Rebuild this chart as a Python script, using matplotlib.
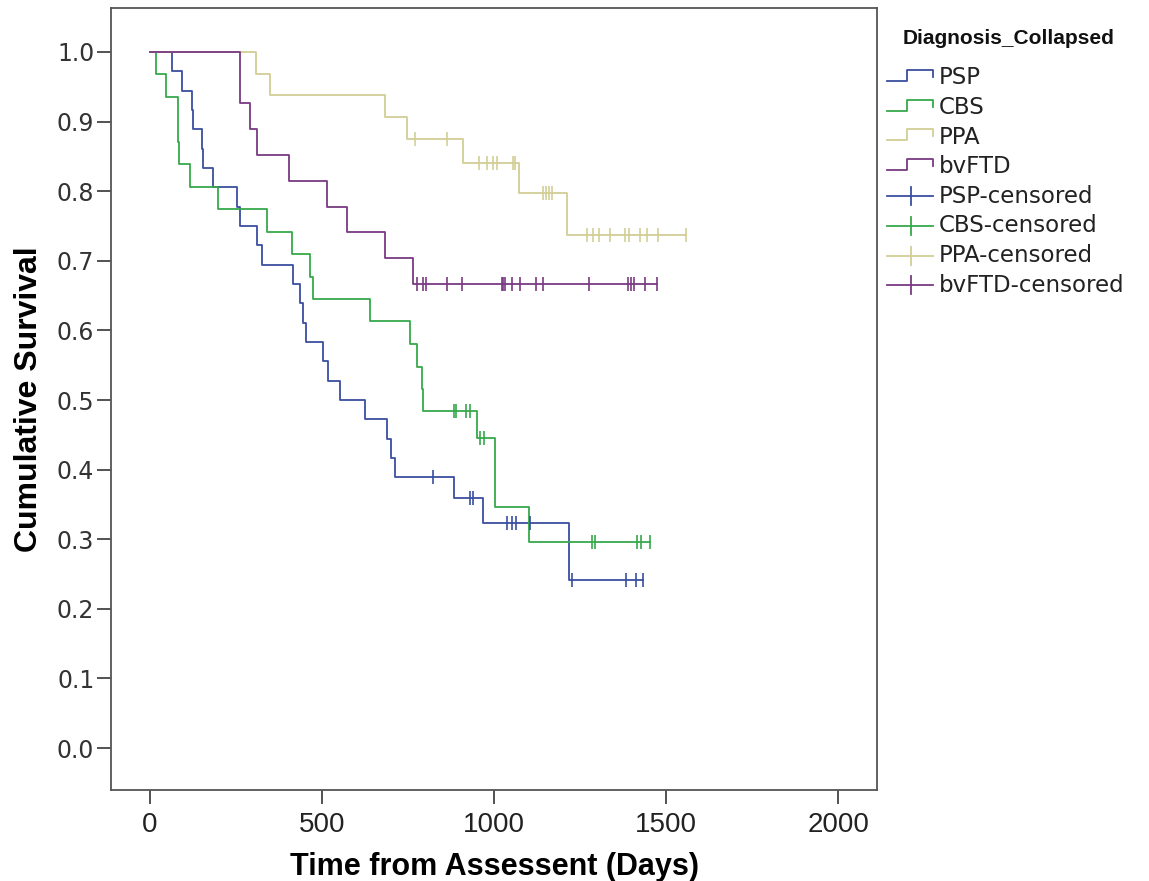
import numpy as np
import matplotlib
matplotlib.use('Agg')
import matplotlib.pyplot as plt

# Kaplan-Meier step data (days, cumulative survival)
psp_t = [0, 63, 92, 121, 126, 150, 155, 182, 252, 262, 310, 325, 417, 436,
         446, 455, 504, 518, 552, 625, 688, 700, 712, 884, 967, 1218]
psp_s = [1.0, 0.972, 0.944, 0.917, 0.889, 0.861, 0.833, 0.806, 0.778, 0.750,
         0.722, 0.694, 0.667, 0.639, 0.611, 0.583, 0.556, 0.528, 0.500, 0.472,
         0.444, 0.417, 0.389, 0.359, 0.323, 0.242]
psp_cens = [822, 930, 938, 1039, 1051, 1064, 1105, 1226, 1384, 1412, 1432]

cbs_t = [0, 19, 48, 82, 84, 116, 199, 339, 412, 465, 473, 640, 756, 777,
         790, 795, 950, 1003, 1103]
cbs_s = [1.0, 0.968, 0.935, 0.871, 0.839, 0.806, 0.774, 0.742, 0.710, 0.677,
         0.645, 0.613, 0.581, 0.548, 0.516, 0.484, 0.445, 0.346, 0.296]
cbs_cens = [884, 891, 920, 930, 959, 971, 1284, 1294, 1417, 1428, 1452]

ppa_t = [0, 308, 349, 683, 746, 909, 1074, 1211]
ppa_s = [1.0, 0.969, 0.938, 0.906, 0.875, 0.841, 0.798, 0.737]
ppa_cens = [770, 862, 955, 980, 998, 1010, 1054, 1061, 1143, 1150, 1160,
            1168, 1269, 1289, 1306, 1337, 1381, 1391, 1424, 1444, 1478, 1558]

ftd_t = [0, 262, 291, 312, 405, 516, 574, 683, 764]
ftd_s = [1.0, 0.926, 0.889, 0.852, 0.815, 0.778, 0.741, 0.704, 0.667]
ftd_cens = [775, 794, 802, 862, 906, 1022, 1027, 1032, 1051, 1077, 1122,
            1142, 1277, 1390, 1398, 1406, 1439, 1473]

groups = ['PSP', 'CBS', 'PPA', 'bvFTD']
colors = ['#3b4ea0', '#36a84a', '#d2ce96', '#7a3a82']
legend_title = 'Diagnosis_Collapsed'

x_ticks = [0, 500, 1000, 1500, 2000]
y_ticks = [0.0, 0.1, 0.2, 0.3, 0.4, 0.5, 0.6, 0.7, 0.8, 0.9, 1.0]

W, H = 1149, 881
label_font = 'Liberation Sans'


def main():
    fig = plt.figure(figsize=(W / 100, H / 100), dpi=100)
    ax = fig.add_axes([111 / W, 1 - 790 / H, (877 - 111) / W, (790 - 8) / H])

    data = [(psp_t, psp_s, psp_cens), (cbs_t, cbs_s, cbs_cens),
            (ppa_t, ppa_s, ppa_cens), (ftd_t, ftd_s, ftd_cens)]

    for (t, s, cens), col in zip(data, colors):
        t = np.asarray(t, float)
        s = np.asarray(s, float)
        end = max(t[-1], max(cens))
        ax.step(np.append(t, end), np.append(s, s[-1]), where='post',
                color=col, lw=1.3, zorder=3)
        # survival value at each censoring time
        idx = np.searchsorted(t, cens, side='right') - 1
        ax.plot(cens, s[idx], ls='none', marker='|', ms=10, mew=1.2,
                color=col, zorder=4)

    ax.set_xlim(-113, 2113)
    ax.set_ylim(-0.0603, 1.0632)
    ax.set_xticks(x_ticks)
    ax.set_xticklabels([str(v) for v in x_ticks], family=label_font,
                       fontsize=20)
    ax.set_yticks(y_ticks)
    ax.set_yticklabels(['%.1f' % v for v in y_ticks], family='DejaVu Sans',
                       fontsize=17, color='#333333')
    ax.tick_params(axis='x', length=10, width=1.3, pad=6, colors='#444444',
                   labelcolor='#222222')
    ax.tick_params(axis='y', length=10, width=1.3, pad=2, colors='#444444',
                   labelcolor='#333333')
    for sp in ax.spines.values():
        sp.set_color('#555555')
        sp.set_linewidth(1.3)

    ax.set_xlabel('Time from Assessent (Days)', family=label_font,
                  fontsize=22, fontweight='bold', labelpad=10)
    ax.set_ylabel('Cumulative Survival', family=label_font, fontsize=23,
                  fontweight='bold', labelpad=9)

    # legend drawn by hand in pixel coordinates
    lax = fig.add_axes([0, 0, 1, 1])
    lax.set_xlim(0, W)
    lax.set_ylim(H, 0)
    lax.axis('off')
    lax.text(903, 38, legend_title, family=label_font, fontsize=15,
             fontweight='bold', va='center', ha='left', color='#111111')
    labels = groups + [g + '-censored' for g in groups]
    for i, lab in enumerate(labels):
        yc = 78 + i * 29.6
        col = colors[i % 4]
        if i < 4:
            lax.plot([887, 907, 907, 933, 933],
                     [yc + 3, yc + 3, yc - 8, yc - 8, yc - 1],
                     color=col, lw=1.3)
        else:
            lax.plot([887, 933], [yc, yc], color=col, lw=1.3)
            lax.plot([911, 911], [yc - 9, yc + 9], color=col, lw=1.3)
        lax.text(939, yc, lab, family='DejaVu Sans', fontsize=16.5,
                 va='center', ha='left', color='#222222')

    fig.savefig('out.png', dpi=100)
    plt.close(fig)


if __name__ == '__main__':
    main()
